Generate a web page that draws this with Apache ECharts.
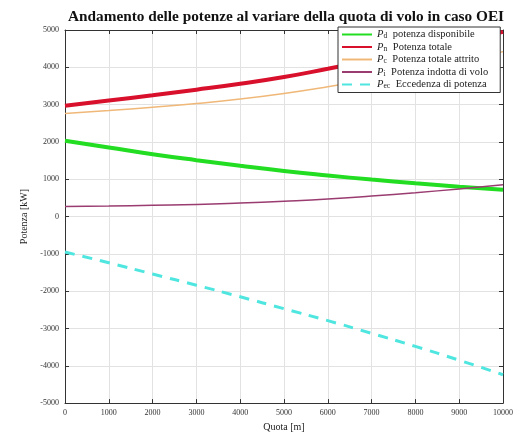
<!DOCTYPE html>
<html>
<head>
<meta charset="utf-8">
<script src="https://cdn.jsdelivr.net/npm/echarts@6/dist/echarts.min.js"></script>
<style>
html,body{margin:0;padding:0;background:#fff;}
#chart{width:518px;height:437px;}
</style>
</head>
<body>
<div id="chart"></div>
<script>
const quote = [0, 1000, 2000, 3000, 4000, 5000, 6000, 7000, 8000, 9000, 10000];
const pDisponibile = [2030, 1850, 1670, 1510, 1360, 1220, 1100, 990, 890, 800, 720];
const pTotale = [2970, 3110, 3250, 3400, 3560, 3740, 3960, 4190, 4430, 4680, 4950];
const pAttrito = [2760, 2840, 2930, 3030, 3150, 3300, 3480, 3680, 3900, 4150, 4420];
const pIndotta = [270, 280, 300, 320, 360, 410, 470, 550, 640, 740, 850];
const pEccedenza = [-950, -1240, -1540, -1840, -2150, -2470, -2790, -3130, -3480, -3850, -4240];
const yTicks = ['-5000','-4000','-3000','-2000','-1000','0','1000','2000','3000','4000','5000'];
const xTicks = ['0','1000','2000','3000','4000','5000','6000','7000','8000','9000','10000'];

const serif = '"Liberation Serif", "DejaVu Serif", serif';
const pts = arr => quote.map((q, i) => [q, arr[i]]);

const legendNames = {
  'Pd': '{i|P}{s|d} potenza disponibile',
  'Pn': '{i|P}{s|n} Potenza totale',
  'Pc': '{i|P}{s|c} Potenza totale attrito',
  'Pi': '{i|P}{s|i} Potenza indotta di volo',
  'Pe': '{i|P}{s|ec} Eccedenza di potenza'
};

const chart = echarts.init(document.getElementById('chart'), null, {renderer: 'canvas'});
const gridLine = {show: true, lineStyle: {color: '#e2e2e2', width: 1}};
const lineSeries = (name, arr, color, width, type) => ({
  name, type: 'line', data: pts(arr), smooth: true, symbol: 'none', showSymbol: false,
  itemStyle: {color}, lineStyle: {color, width, type: type || 'solid'}
});
chart.setOption({
  animation: false,
  backgroundColor: '#fff',
  title: {
    text: 'Andamento delle potenze al variare della quota di volo in caso OEI',
    left: 281, textAlign: 'center', top: 5,
    textStyle: {fontFamily: serif, fontSize: 15.3, fontWeight: 'bold', color: '#111'}
  },
  grid: {left: 65, right: 15, top: 30, bottom: 30, containLabel: false},
  legend: {
    orient: 'vertical', left: 338, top: 27,
    backgroundColor: '#fff', borderColor: '#333', borderWidth: 1,
    padding: [2, 12, 2, 3], itemGap: 1, itemWidth: 30, itemHeight: 11,
    itemStyle: {opacity: 0},
    data: ['Pd', 'Pn', 'Pc', 'Pi', 'Pe'],
    formatter: n => legendNames[n],
    textStyle: {
      fontFamily: serif, fontSize: 10.5, color: '#222',
      rich: {
        i: {fontFamily: serif, fontSize: 10.5, fontStyle: 'italic', color: '#222'},
        s: {fontFamily: serif, fontSize: 7.5, verticalAlign: 'bottom', padding: [4, 3, 0, 0], color: '#222'}
      }
    }
  },
  xAxis: [{
    type: 'value', min: 0, max: 10000, interval: 1000,
    name: 'Quota [m]', nameLocation: 'middle', nameGap: 18,
    nameTextStyle: {fontFamily: serif, fontSize: 10, color: '#222'},
    axisLine: {show: true, onZero: false, lineStyle: {color: '#333'}},
    axisTick: {show: true, inside: true, length: 4, lineStyle: {color: '#333'}},
    axisLabel: {fontFamily: serif, fontSize: 8, color: '#333', margin: 6,
      formatter: (v) => xTicks[Math.round(v / 1000)]},
    splitLine: gridLine
  }, {
    type: 'value', min: 0, max: 10000, interval: 1000, position: 'top',
    axisLine: {show: true, onZero: false, lineStyle: {color: '#333'}},
    axisTick: {show: true, inside: true, length: 4, lineStyle: {color: '#333'}},
    axisLabel: {show: false}, splitLine: {show: false}
  }],
  yAxis: [{
    type: 'value', min: -5000, max: 5000, interval: 1000,
    name: 'Potenza [kW]', nameLocation: 'middle', nameGap: 36,
    nameTextStyle: {fontFamily: serif, fontSize: 10, color: '#222'},
    axisLine: {show: true, onZero: false, lineStyle: {color: '#333'}},
    axisTick: {show: true, inside: true, length: 4, lineStyle: {color: '#333'}},
    axisLabel: {fontFamily: serif, fontSize: 8, color: '#333', margin: 6,
      formatter: (v) => yTicks[Math.round((v + 5000) / 1000)]},
    splitLine: gridLine
  }, {
    type: 'value', min: -5000, max: 5000, interval: 1000, position: 'right',
    axisLine: {show: true, onZero: false, lineStyle: {color: '#333'}},
    axisTick: {show: true, inside: true, length: 4, lineStyle: {color: '#333'}},
    axisLabel: {show: false}, splitLine: {show: false}
  }],
  series: [
    lineSeries('Pd', pDisponibile, '#22dd22', 4),
    lineSeries('Pn', pTotale, '#d8102c', 4),
    lineSeries('Pc', pAttrito, '#f0b878', 1.5),
    lineSeries('Pi', pIndotta, '#9a3c70', 1.5),
    lineSeries('Pe', pEccedenza, '#4fe6e0', 3, [10, 8])
  ]
});
</script>
</body>
</html>
